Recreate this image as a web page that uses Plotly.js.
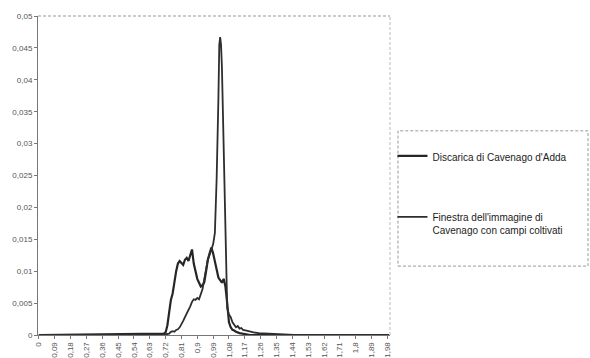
<!DOCTYPE html>
<html>
<head>
<meta charset="utf-8">
<script src="https://cdn.plot.ly/plotly-3.0.1.min.js"></script>
<style>html,body{margin:0;padding:0;background:#fff;}#chart{width:590px;height:358px;}</style>
</head>
<body>
<div id="chart"></div>
<script>
// Series 1: Discarica di Cavenago d'Adda (broad, bimodal)
const xDiscarica = [0, 0.70, 0.71, 0.72, 0.73, 0.74, 0.75, 0.76, 0.77, 0.78, 0.79, 0.80, 0.81, 0.82, 0.83, 0.84, 0.85, 0.86, 0.87, 0.88, 0.89, 0.90, 0.91, 0.92, 0.93, 0.94, 0.95, 0.96, 0.97, 0.98, 0.99, 1.00, 1.01, 1.02, 1.03, 1.04, 1.05, 1.06, 1.07, 1.08, 1.09, 1.10, 1.11, 1.12, 1.14, 1.17, 1.20, 1.99];
const yDiscarica = [0, 0.0001, 0.0002, 0.0004, 0.0015, 0.0035, 0.0055, 0.0065, 0.0085, 0.0100, 0.0112, 0.0116, 0.0113, 0.0110, 0.0118, 0.0121, 0.0116, 0.0124, 0.0134, 0.0112, 0.0098, 0.0088, 0.0082, 0.0076, 0.0078, 0.0083, 0.0100, 0.0118, 0.0128, 0.0137, 0.0128, 0.0116, 0.0100, 0.0090, 0.0086, 0.0082, 0.0088, 0.0076, 0.0050, 0.0020, 0.0012, 0.0008, 0.0007, 0.0005, 0.0003, 0.0001, 0, 0];

// Series 2: Finestra dell'immagine di Cavenago con campi coltivati (sharp peak)
const xFinestra = [0, 0.70, 0.74, 0.75, 0.76, 0.77, 0.78, 0.79, 0.80, 0.81, 0.82, 0.83, 0.84, 0.85, 0.86, 0.87, 0.88, 0.89, 0.90, 0.91, 0.92, 0.93, 0.94, 0.95, 0.96, 0.97, 0.98, 0.99, 1.00, 1.01, 1.02, 1.025, 1.03, 1.035, 1.04, 1.05, 1.06, 1.065, 1.07, 1.08, 1.09, 1.10, 1.11, 1.12, 1.13, 1.14, 1.15, 1.16, 1.18, 1.20, 1.22, 1.25, 1.30, 1.35, 1.40, 1.45, 1.99];
const yFinestra = [0, 0, 0.0002, 0.0005, 0.0006, 0.0005, 0.0008, 0.0009, 0.0012, 0.0016, 0.0022, 0.0028, 0.0033, 0.0038, 0.0045, 0.0052, 0.0056, 0.0055, 0.0058, 0.0056, 0.0064, 0.0072, 0.0088, 0.0105, 0.0118, 0.0126, 0.0135, 0.0142, 0.0160, 0.0245, 0.0370, 0.0455, 0.0467, 0.0455, 0.0420, 0.0300, 0.0160, 0.0080, 0.0042, 0.0032, 0.0028, 0.0020, 0.0016, 0.0012, 0.0014, 0.0010, 0.0011, 0.0008, 0.0007, 0.0005, 0.0004, 0.0003, 0.0002, 0.0002, 0.0001, 0, 0];

const seriesNames = ["Discarica di Cavenago d'Adda", "Finestra dell'immagine di<br>Cavenago con campi coltivati"];

const xTickVals = [0, 0.09, 0.18, 0.27, 0.36, 0.45, 0.54, 0.63, 0.72, 0.81, 0.90, 0.99, 1.08, 1.17, 1.26, 1.35, 1.44, 1.53, 1.62, 1.71, 1.80, 1.89, 1.98];
const xTickText = ["0", "0,09", "0,18", "0,27", "0,36", "0,45", "0,54", "0,63", "0,72", "0,81", "0,9", "0,99", "1,08", "1,17", "1,26", "1,35", "1,44", "1,53", "1,62", "1,71", "1,8", "1,89", "1,98"];
const yTickVals = [0, 0.005, 0.01, 0.015, 0.02, 0.025, 0.03, 0.035, 0.04, 0.045, 0.05];
const yTickText = ["0", "0,005", "0,01", "0,015", "0,02", "0,025", "0,03", "0,035", "0,04", "0,045", "0,05"];

const traces = [
  {x: xDiscarica, y: yDiscarica, name: seriesNames[0], type: 'scatter', mode: 'lines',
   line: {color: '#262626', width: 2.2}, legendgroup: 'a'},
  {x: xFinestra, y: yFinestra, name: seriesNames[1], type: 'scatter', mode: 'lines',
   line: {color: '#2e2e2e', width: 1.8}, legendgroup: 'b'}
];

const layout = {
  width: 590, height: 358,
  margin: {l: 38, r: 200, t: 16, b: 23},
  paper_bgcolor: '#ffffff', plot_bgcolor: '#ffffff',
  font: {family: 'Liberation Sans, Arial, sans-serif', color: '#444', size: 8},
  showlegend: true,
  legend: {
    x: 1.007, xanchor: 'left', y: 0.602, yanchor: 'top',
    font: {family: 'Liberation Sans, Arial, sans-serif', size: 10, color: '#222'},
    bgcolor: 'rgba(0,0,0,0)', borderwidth: 0,
    tracegroupgap: 42, valign: 'top', itemwidth: 30
  },
  xaxis: {
    range: [-0.005, 1.995], tickmode: 'array', tickvals: xTickVals, ticktext: xTickText,
    tickangle: -90, ticks: 'outside', ticklen: 3, tickcolor: '#777',
    showline: true, linecolor: '#777', linewidth: 1, showgrid: false, zeroline: false,
    tickfont: {size: 8, color: '#555'}
  },
  yaxis: {
    range: [0, 0.05], tickmode: 'array', tickvals: yTickVals, ticktext: yTickText,
    ticks: 'outside', ticklen: 3, tickcolor: '#777',
    showline: true, linecolor: '#777', linewidth: 1, showgrid: false, zeroline: false,
    tickfont: {size: 8, color: '#555'}
  },
  shapes: [
    {type: 'line', xref: 'paper', yref: 'paper', x0: 0, x1: 1, y0: 1, y1: 1,
     line: {color: '#999', width: 1, dash: '3px,2px'}},
    {type: 'line', xref: 'paper', yref: 'paper', x0: 1, x1: 1, y0: 0, y1: 1,
     line: {color: '#bbb', width: 1, dash: '3px,2px'}},
    {type: 'rect', xref: 'paper', yref: 'paper', x0: 1.0227, x1: 1.5625, y0: 0.216, y1: 0.64,
     line: {color: '#999', width: 1, dash: '3px,2px'}}
  ]
};

Plotly.newPlot('chart', traces, layout, {displayModeBar: false, staticPlot: true});
</script>
</body>
</html>
